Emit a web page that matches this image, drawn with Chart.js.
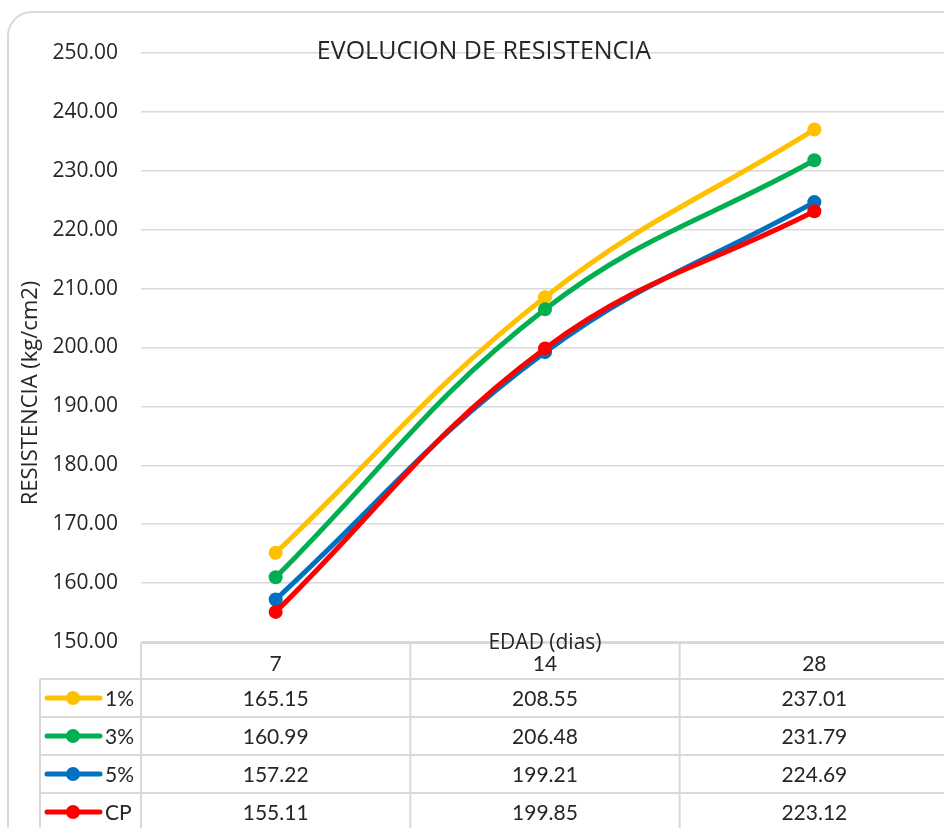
<!DOCTYPE html>
<html>
<head>
<meta charset="utf-8">
<script src="https://cdn.jsdelivr.net/npm/chart.js@4"></script>
<style>
  html, body { margin: 0; padding: 0; background: #fff; overflow: hidden; }
  #wrap { position: absolute; left: 0; top: 0; width: 960px; height: 840px; }
</style>
</head>
<body>
<div id="wrap"><canvas id="chart"></canvas></div>
<script>
const edades = ["7", "14", "28"];
const nombres = ["1%", "3%", "5%", "CP"];
const uno = [165.15, 208.55, 237.01];
const tres = [160.99, 206.48, 231.79];
const cinco = [157.22, 199.21, 224.69];
const cp = [155.11, 199.85, 223.12];
const colores = ["#FFC000", "#00B050", "#0070C0", "#FF0000"];
const yMin = 150, yMax = 250, yPaso = 10;

const series = [uno, tres, cinco, cp];
const textColor = "#262626";
const gridColor = "#d9d9d9";

const tablaPlugin = {
  id: "tabla",
  beforeDraw(chart) {
    const ctx = chart.ctx;
    ctx.save();
    ctx.strokeStyle = gridColor;
    ctx.lineWidth = 2;
    ctx.beginPath();
    ctx.roundRect(8, 12, 1100, 1000, 24);
    ctx.stroke();
    ctx.restore();
  },
  afterDraw(chart) {
    const ctx = chart.ctx;
    const area = chart.chartArea;
    const xs = chart.scales.x;
    const colW = area.width / edades.length;
    const top = area.bottom + 1;
    const headH = 36, rowH = 38;
    const legLeft = 40;

    ctx.save();
    // title
    ctx.fillStyle = textColor;
    ctx.font = "25px 'Open Sans'";
    ctx.textAlign = "center";
    ctx.textBaseline = "middle";
    ctx.fillText("EVOLUCION DE RESISTENCIA", 484, 52);

    // y axis title
    ctx.save();
    ctx.translate(31, 393);
    ctx.rotate(-Math.PI / 2);
    ctx.font = "22px 'Open Sans'";
    ctx.fillText("RESISTENCIA (kg/cm2)", 0, 0);
    ctx.restore();

    // grid of the data table
    ctx.strokeStyle = gridColor;
    ctx.lineWidth = 2;
    ctx.beginPath();
    ctx.moveTo(area.left, top);
    ctx.lineTo(1000, top);
    for (let r = 0; r <= series.length; r++) {
      const y = top + headH + r * rowH;
      ctx.moveTo(legLeft, y);
      ctx.lineTo(1000, y);
    }
    ctx.moveTo(legLeft, top + headH);
    ctx.lineTo(legLeft, 900);
    for (let c = 0; c <= edades.length; c++) {
      const x = area.left + c * colW;
      ctx.moveTo(x, top);
      ctx.lineTo(x, 900);
    }
    ctx.stroke();

    // header
    ctx.fillStyle = textColor;
    ctx.font = "21px Lato";
    edades.forEach((e, i) => {
      ctx.fillText(e, xs.getPixelForValue(i), top + headH / 2 + 3);
    });

    // rows
    series.forEach((s, r) => {
      const yc = top + headH + r * rowH + rowH / 2;
      // legend key
      ctx.strokeStyle = colores[r];
      ctx.lineWidth = 5;
      ctx.lineCap = "round";
      ctx.beginPath();
      ctx.moveTo(47, yc);
      ctx.lineTo(100, yc);
      ctx.stroke();
      ctx.fillStyle = colores[r];
      ctx.beginPath();
      ctx.arc(73, yc, 7, 0, Math.PI * 2);
      ctx.fill();
      ctx.fillStyle = textColor;
      ctx.textAlign = "left";
      ctx.font = "21px Lato";
      ctx.fillText(nombres[r], 105, yc + 1);
      ctx.textAlign = "center";
      s.forEach((v, i) => {
        ctx.fillText(v.toFixed(2), xs.getPixelForValue(i), yc + 1);
      });
    });

    // x axis title
    ctx.font = "21px 'Open Sans'";
    ctx.fillText("EDAD (dias)", xs.getPixelForValue(1), top);
    ctx.restore();
  }
};

new Chart(document.getElementById("chart"), {
  type: "line",
  data: {
    labels: edades,
    datasets: series.map((s, i) => ({
      label: nombres[i],
      data: s,
      borderColor: colores[i],
      backgroundColor: colores[i],
      borderWidth: 5,
      pointRadius: 7,
      pointBorderWidth: 0,
      tension: 0.4
    })).reverse()
  },
  options: {
    responsive: true,
    maintainAspectRatio: false,
    animation: false,
    layout: { padding: { left: 0, top: 53, right: 11, bottom: 198 } },
    plugins: {
      legend: { display: false },
      tooltip: { enabled: false }
    },
    scales: {
      x: {
        display: false,
        offset: true
      },
      y: {
        min: yMin,
        max: yMax,
        border: { display: false },
        grid: { color: gridColor, lineWidth: 1.5, drawTicks: false },
        ticks: {
          stepSize: yPaso,
          padding: 23,
          color: textColor,
          font: { family: "'Open Sans'", size: 21 },
          callback: v => Number(v).toFixed(2)
        },
        afterFit(scale) { scale.width = 141; }
      }
    }
  },
  plugins: [tablaPlugin]
});
</script>
</body>
</html>
